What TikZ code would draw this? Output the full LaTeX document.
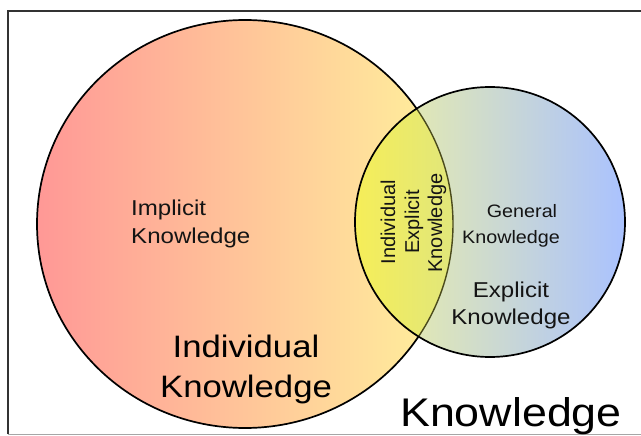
\documentclass[tikz,border=0pt]{standalone}
\usepackage{fontspec}
\setmainfont{Liberation Sans}
\definecolor{bigL}{HTML}{FF9896}
\definecolor{bigM}{HTML}{FFC696}
\definecolor{bigR}{HTML}{FFF29C}
\definecolor{smL}{HTML}{F0F2A0}
\definecolor{smM}{HTML}{D4DEC4}
\definecolor{smR}{HTML}{AAC2FF}
\definecolor{lensL}{HTML}{F6EE58}
\definecolor{lensR}{HTML}{E0E67C}
\definecolor{lensline}{HTML}{4A4A1C}
\definecolor{txt}{HTML}{141414}
\definecolor{framec}{HTML}{333333}
\begin{document}
\begin{tikzpicture}[x=1pt,y=-1pt,
  lbl/.style={inner sep=0pt, text=txt, xscale=1.12},
  vlbl/.style={inner sep=0pt, text=txt, rotate=90, anchor=base, font=\fontsize{20}{24}\selectfont}]
\useasboundingbox (0,0) rectangle (641,436);
\clip (0,0) rectangle (641,436);
\fill[white] (0,0) rectangle (641,436);
% frame
\draw[framec, line width=2.2] (8,434) -- (8,11) -- (660,11);
\draw[gray!70, line width=1] (8,434.5) -- (660,434.5);
% fills
\shade[left color=bigL, middle color=bigM, right color=bigR] (245,224) ellipse [x radius=208, y radius=204];
\shade[left color=smL, middle color=smM, right color=smR] (490,222) circle [radius=135];
\begin{scope}
  \clip (245,224) ellipse [x radius=208, y radius=204];
  \clip (490,222) circle [radius=135];
  \shade[left color=lensL, right color=lensR] (354,80) rectangle (456,370);
\end{scope}
% outlines
\begin{scope}[even odd rule]
  \clip (0,0) rectangle (641,436) (490,222) circle [radius=135];
  \draw[black, line width=1.7] (245,224) ellipse [x radius=208, y radius=204];
\end{scope}
\begin{scope}
  \clip (490,222) circle [radius=135];
  \draw[lensline, line width=1.4] (245,224) ellipse [x radius=208, y radius=204];
\end{scope}
\draw[black, line width=1.7] (490,222) circle [radius=135];
% texts
\node[lbl, anchor=base west, font=\fontsize{21.5}{26}\selectfont] (impl1) at (131,215) {Implicit};
\node[lbl, anchor=base west, font=\fontsize{21.5}{26}\selectfont] (impl2) at (131,243) {Knowledge};
\node[lbl, anchor=base, text=black, font=\fontsize{31}{36}\selectfont] (ind1) at (246,357) {Individual};
\node[lbl, anchor=base, text=black, font=\fontsize{31}{36}\selectfont] (ind2) at (246,397) {Knowledge};
\node[lbl, anchor=base, text=black, font=\fontsize{40}{46}\selectfont] (know) at (511,426) {Knowledge};
\node[lbl, anchor=base, xscale=0.98, font=\fontsize{18}{22}\selectfont] (gen1) at (522,218) {General};
\node[lbl, anchor=base, xscale=0.98, font=\fontsize{18}{22}\selectfont] (gen2) at (511,243) {Knowledge};
\node[lbl, anchor=base, font=\fontsize{21.5}{26}\selectfont] (exp1) at (511,297) {Explicit};
\node[lbl, anchor=base, font=\fontsize{21.5}{26}\selectfont] (exp2) at (511,324) {Knowledge};
\node[vlbl] (le1) at (395,222) {Individual};
\node[vlbl] (le2) at (419,222) {Explicit};
\node[vlbl] (le3) at (442,223) {Knowledge};
\end{tikzpicture}
\end{document}
